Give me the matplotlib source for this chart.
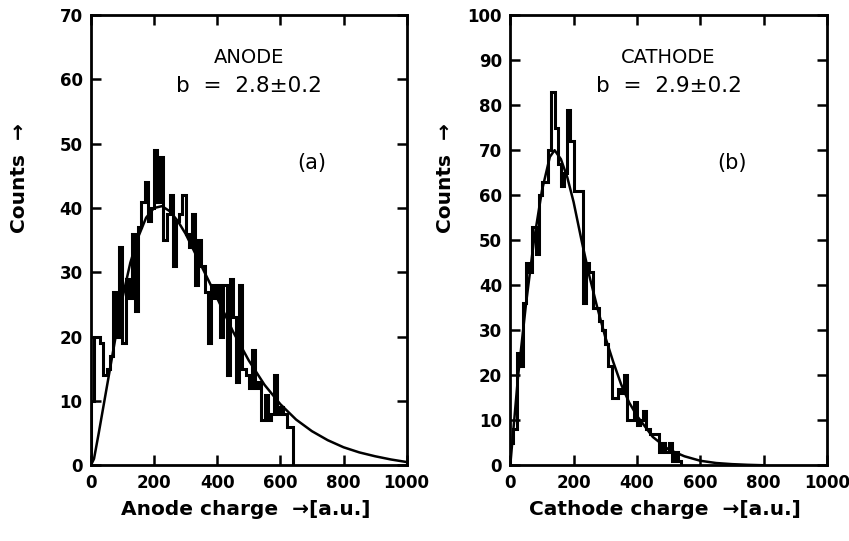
import numpy as np
import matplotlib
matplotlib.use("Agg")
import matplotlib.pyplot as plt

# Гистограммы (ширина бина 10 a.u.)
bin_width = 10
anode_counts = [10, 20, 20, 19, 14, 15, 17, 27, 20, 34,
                19, 29, 26, 36, 24, 37, 41, 44, 38, 40,
                49, 41, 48, 35, 39, 42, 31, 38, 39, 42,
                36, 34, 39, 28, 35, 31, 27, 19, 28, 26,
                28, 20, 28, 14, 29, 23, 13, 28, 15, 14,
                12, 18, 12, 13, 7, 11, 7, 8, 14, 8,
                9, 8, 6, 6]
cathode_counts = [5, 8, 25, 22, 36, 45, 43, 53, 47, 60,
                  63, 63, 70, 83, 75, 67, 62, 65, 79, 72,
                  61, 61, 61, 36, 45, 43, 35, 35, 32, 30,
                  27, 22, 15, 15, 17, 16, 20, 10, 10, 14,
                  9, 10, 12, 8, 7, 7, 7, 3, 5, 3,
                  5, 1, 3, 1]

# Кривые подгонки (точки)
anode_fit_x = [0, 10, 25, 50, 75, 100, 125, 150, 175, 200, 225, 250, 275, 300,
               325, 350, 375, 400, 450, 500, 550, 600, 650, 700, 750, 800,
               850, 900, 950, 1000]
anode_fit_y = [0, 1, 5, 12, 19, 26, 31.5, 35.5, 38.5, 40, 40.3, 39.5, 38, 36,
               33.5, 31, 28.5, 26, 20.8, 16.3, 12.5, 9.5, 7.1, 5.3, 3.9, 2.8,
               2.0, 1.4, 0.9, 0.5]
cathode_fit_x = [0, 25, 50, 75, 100, 125, 140, 160, 180, 200, 225, 250, 275,
                 300, 325, 350, 375, 400, 450, 500, 550, 600, 650, 700, 750, 800]
cathode_fit_y = [0, 20, 36, 50, 61, 68.5, 70, 68, 64, 58.5, 50, 42, 35,
                 28.5, 23, 18, 14, 11, 6.3, 3.5, 2, 1, 0.5, 0.25, 0.1, 0]

plt.rcParams['font.family'] = 'DejaVu Sans'
fig = plt.figure(figsize=(8.49, 5.41), dpi=100)
ax1 = fig.add_axes([0.107, 0.140, 0.372, 0.832])
ax2 = fig.add_axes([0.601, 0.140, 0.373, 0.832])

panels = [
    (ax1, anode_counts, anode_fit_x, anode_fit_y, 70, "ANODE", "b  =  2.8\u00b10.2", "(a)",
     "Anode charge  \u2192[a.u.]", -0.196),
    (ax2, cathode_counts, cathode_fit_x, cathode_fit_y, 100, "CATHODE", "b  =  2.9\u00b10.2", "(b)",
     "Cathode charge  \u2192[a.u.]", -0.176),
]

for ax, counts, fx, fy, ymax, name, btext, tag, xlabel, ylab_x in panels:
    edges = np.arange(len(counts) + 1) * bin_width
    ax.stairs(counts, edges, baseline=0, color='k', lw=2.2)
    ax.plot(fx, fy, color='k', lw=1.8)
    ax.set_xlim(0, 1000)
    ax.set_ylim(0, ymax)
    ax.set_xticks(range(0, 1001, 200))
    ax.set_yticks(range(0, ymax + 1, 10))
    ax.tick_params(direction='in', top=True, right=True, length=7, width=1.8,
                   labelsize=12, pad=6)
    for lab in ax.get_xticklabels() + ax.get_yticklabels():
        lab.set_fontweight('bold')
    for sp in ax.spines.values():
        sp.set_linewidth(2)
    ax.text(0.5, 0.905, name, transform=ax.transAxes, ha='center', va='center', fontsize=14)
    ax.text(0.5, 0.843, btext, transform=ax.transAxes, ha='center', va='center', fontsize=15.5)
    ax.text(0.7, 0.672, tag, transform=ax.transAxes, ha='center', va='center', fontsize=15)
    ax.set_xlabel(xlabel, fontsize=14.5, fontweight='bold')
    ax.xaxis.set_label_coords(0.49, -0.078)
    ax.set_ylabel("Counts  \u2192", fontsize=14.5, fontweight='bold')
    ax.yaxis.set_label_coords(ylab_x, 0.638)

fig.savefig("out.png", dpi=100)
